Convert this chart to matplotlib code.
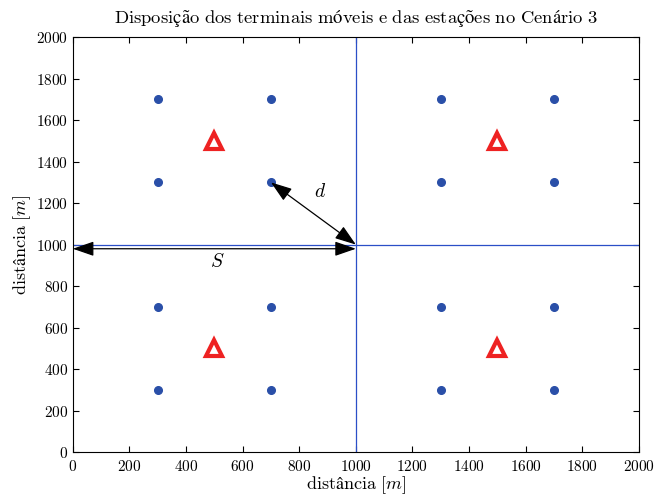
import matplotlib
matplotlib.use("Agg")
import matplotlib.pyplot as plt

plt.rcParams['font.family'] = ['cmr10']
plt.rcParams['mathtext.fontset'] = 'cm'
plt.rcParams['axes.formatter.use_mathtext'] = True

# terminais moveis
term_x = [300, 700, 300, 700, 300, 700, 300, 700,
          1300, 1700, 1300, 1700, 1300, 1700, 1300, 1700]
term_y = [300, 300, 700, 700, 1300, 1300, 1700, 1700,
          300, 300, 700, 700, 1300, 1300, 1700, 1700]
# estacoes
est_x = [500, 1500, 500, 1500]
est_y = [500, 500, 1500, 1500]
ticks = [0, 200, 400, 600, 800, 1000, 1200, 1400, 1600, 1800, 2000]

titulo = r'$\mathrm{Disposição\ dos\ terminais\ móveis\ e\ das\ estações\ no\ Cenário\ 3}$'
rotulo = r'$\mathrm{distância}\ [m]$'

fig = plt.figure(figsize=(6.56, 4.96), dpi=100)
ax = fig.add_axes([0.111, 0.0887, 0.863, 0.8363])

ax.axvline(1000, color='#2b4fc7', lw=0.9)
ax.axhline(1000, color='#2b4fc7', lw=0.9)
ax.plot(term_x, term_y, 'o', color='#2a4fa8', ms=5.5, ls='none')
ax.plot(est_x, est_y, '^', mfc='white', mec='#ee2222', ms=12, mew=3, ls='none')

arr = dict(arrowstyle='<|-|>,head_length=1.3,head_width=0.45', color='black', lw=0.9,
           shrinkA=0, shrinkB=0)
ax.annotate('', xy=(700, 1300), xytext=(1000, 1000), arrowprops=arr)
ax.annotate('', xy=(0, 980), xytext=(1000, 980), arrowprops=arr)
ax.text(873, 1253, '$d$', fontsize=14, ha='center', va='center')
ax.text(509, 916, '$S$', fontsize=14, ha='center', va='center')

ax.set_xlim(0, 2000)
ax.set_ylim(0, 2000)
ax.set_xticks(ticks)
ax.set_yticks(ticks)
ax.tick_params(direction='in', top=True, right=True, labelsize=11, length=4)
ax.tick_params(axis='x', pad=5)
ax.set_xlabel(rotulo, fontsize=13, labelpad=0)
ax.set_ylabel(rotulo, fontsize=13, labelpad=2)
ax.set_title(titulo, fontsize=13.4, pad=10)

fig.savefig('out.png', dpi=100)
